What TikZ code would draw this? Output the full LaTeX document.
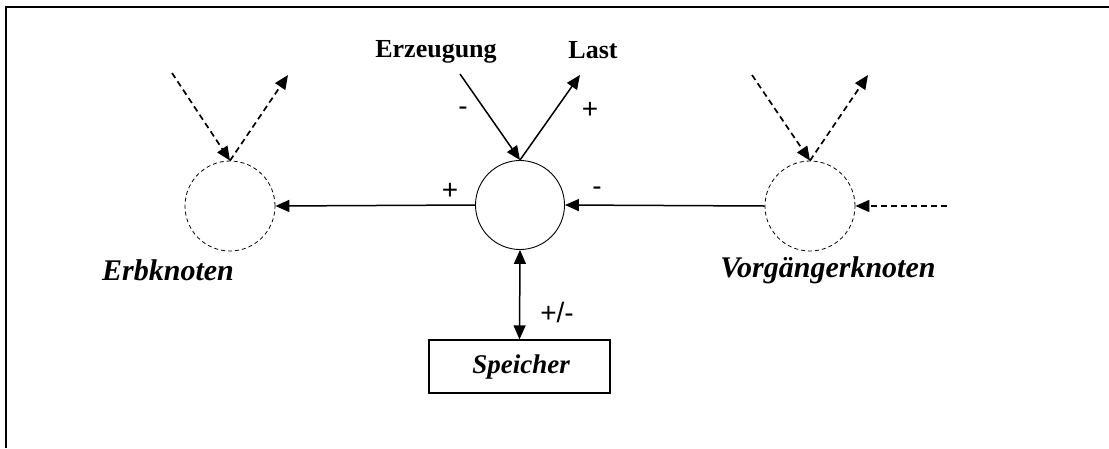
\documentclass[tikz,border=0pt]{standalone}
\usepackage{fontspec}
\setmainfont{Liberation Serif}
\newfontfamily\signfont{Liberation Sans}
\usetikzlibrary{arrows.meta}
\begin{document}
\begin{tikzpicture}[x=1pt,y=-1pt,
  tip/.style={-{Triangle[length=14pt,width=12pt]}},
  conn/.style={line width=1.5pt},
  dconn/.style={line width=1.7pt,dash pattern=on 6pt off 4pt},
  node circ/.style={circle,draw,line width=0.9pt,minimum size=89pt,inner sep=0pt},
  ghost/.style={circle,draw,line width=0.8pt,dash pattern=on 4pt off 3pt,minimum size=90pt,inner sep=0pt},
  title/.style={font=\fontsize{26}{28}\selectfont\bfseries,inner sep=0pt},
  ititle/.style={font=\fontsize{30}{32}\selectfont\bfseries\itshape,inner sep=0pt},
  sign/.style={font=\signfont\fontsize{28}{30}\selectfont,inner sep=0pt}]
\useasboundingbox (0,0) rectangle (1109,448);
\fill[white] (0,0) rectangle (1109,448);
% frame (top and left visible)
\coordinate (f1) at (6,448);
\coordinate (f2) at (6,7);
\coordinate (f3) at (1109,7);
\draw[line width=2.2pt] (f1) -- (f2) -- (f3);

% nodes
\node[node circ] (cc) at (520,205) {};
\node[ghost] (lc) at (230,206) {};
\node[ghost] (rc) at (810,206) {};
\node[draw,line width=1.3pt,minimum width=181pt,minimum height=53pt,inner sep=0pt] (sp) at (519.5,366.5) {};
\node[font=\fontsize{27}{29}\selectfont\bfseries\itshape,inner sep=0pt] (sptext) at (521,367) {Speicher};

\node[title] (erz) at (436,52) {Erzeugung};
\node[title] (last) at (593,50) {Last};
\node[ititle] (erb) at (168,270) {Erbknoten};
\node[ititle] (vor) at (828,270) {Vorgängerknoten};

% free ends
\coordinate (erzS) at (460,74);
\coordinate (lastS) at (580,75);
\coordinate (lin) at (172,73);
\coordinate (lout) at (288,75);
\coordinate (rin) at (752,75);
\coordinate (rout) at (868,75);
\coordinate (rr) at (947,206);

% connectors
\draw[conn,tip] (erzS) -- (cc.north);
\draw[conn,tip] (cc.north) -- (lastS);
\draw[conn,tip] (cc.west) -- (lc.east);
\draw[conn,tip] (rc.west) -- (cc.east);
\draw[conn,{Triangle[length=14pt,width=12pt]}-{Triangle[length=14pt,width=12pt]}] (cc.south) -- (sp.north);

\draw[dconn,tip] (lin) -- (lc.north);
\draw[dconn,tip] (lc.north) -- (lout);
\draw[dconn,tip] (rin) -- (rc.north);
\draw[dconn,tip] (rc.north) -- (rout);
\draw[dconn,tip] (rr) -- (rc.east);

% signs
\node[sign] (s1) at (463,111) {-};
\node[sign] (s2) at (590,110) {+};
\node[sign] (s3) at (450,191) {+};
\node[sign] (s4) at (597,191) {-};
\node[sign] (s5) at (557,312) {+/-};
\end{tikzpicture}
\end{document}
